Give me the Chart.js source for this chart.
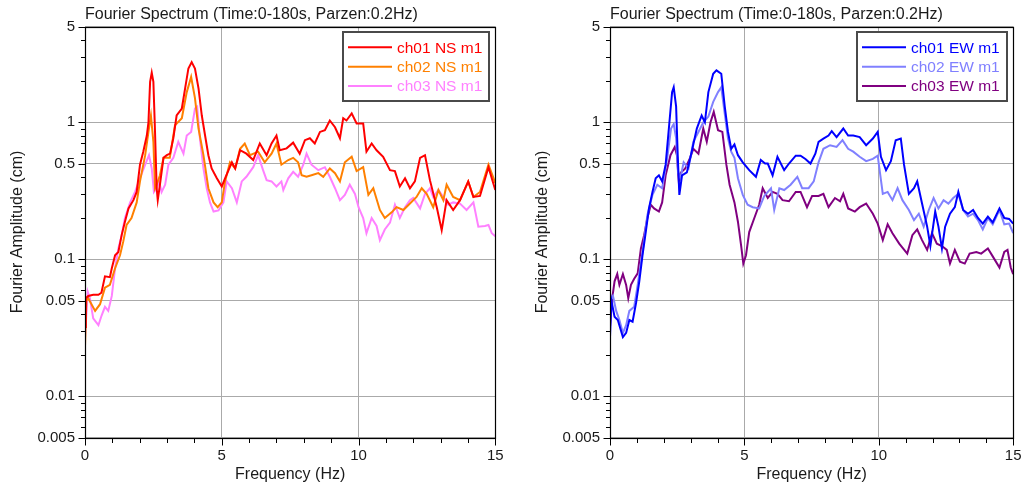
<!DOCTYPE html>
<html><head><meta charset="utf-8">
<script src="https://cdn.jsdelivr.net/npm/chart.js@4.4.0/dist/chart.umd.min.js"></script>
<style>
html,body{margin:0;padding:0;background:#fff;}
#wrap{position:relative;width:1031px;height:486px;overflow:hidden;background:#fff}
.c{position:absolute;top:0;height:486px}
canvas{display:block}
</style></head><body>
<div id="wrap">
<div class="c" style="left:0;width:524px"><canvas id="cNS" width="524" height="486"></canvas></div>
<div class="c" style="left:525px;width:506px"><canvas id="cEW" width="506" height="486"></canvas></div>
</div>
<script>
// ---------- data (frequency in Hz, amplitude in cm) ----------
const titleText = 'Fourier Spectrum (Time:0-180s, Parzen:0.2Hz)';
const xTitle = 'Frequency (Hz)';
const yTitle = 'Fourier Amplitude (cm)';

const xMajor = [0, 5, 10, 15];
const xLabels = ['0', '5', '10', '15'];
const xMinor = [1, 2, 3, 4, 6, 7, 8, 9, 11, 12, 13, 14];
const yMajor = [0.005, 0.01, 0.05, 0.1, 0.5, 1, 5];
const yLabels = ['0.005', '0.01', '0.05', '0.1', '0.5', '1', '5'];
const yMinor = [0.006, 0.007, 0.008, 0.009, 0.02, 0.03, 0.04, 0.06, 0.07, 0.08, 0.09,
                0.2, 0.3, 0.4, 0.6, 0.7, 0.8, 0.9, 2, 3, 4];

const ns1F = [0,0.03,0.12,0.3,0.49,0.6,0.73,0.91,0.98,1.1,1.22,1.34,1.46,1.59,1.77,1.89,2.01,2.13,2.26,2.32,2.38,2.44,2.5,2.56,2.62,2.66,2.74,2.87,2.99,3.11,3.23,3.35,3.54,3.66,3.78,3.9,4.02,4.15,4.27,4.39,4.51,4.63,4.82,5.0,5.12,5.37,5.49,5.67,5.9,6.15,6.39,6.64,6.82,7.0,7.12,7.37,7.61,7.85,8.04,8.22,8.4,8.59,8.77,8.95,9.14,9.32,9.44,9.56,9.75,9.93,10.17,10.29,10.48,10.66,10.9,11.15,11.33,11.51,11.7,11.88,12.06,12.25,12.43,12.61,12.86,13.04,13.22,13.46,13.71,14.01,14.2,14.44,14.75,15];
const ns1A = [0.032,0.052,0.054,0.055,0.055,0.057,0.075,0.074,0.086,0.107,0.113,0.15,0.188,0.235,0.27,0.31,0.49,0.61,0.80,1.0,1.97,2.3,1.97,0.85,0.33,0.27,0.35,0.55,0.575,0.59,0.765,1.12,1.26,1.77,2.47,2.75,2.47,1.77,1.12,0.80,0.575,0.46,0.39,0.34,0.39,0.51,0.46,0.625,0.59,0.53,0.70,0.575,0.70,0.80,0.625,0.645,0.71,0.59,0.74,0.765,0.70,0.85,0.875,1.03,0.92,0.765,1.07,1.03,1.16,0.98,0.98,0.61,0.70,0.625,0.56,0.447,0.44,0.34,0.39,0.33,0.37,0.55,0.575,0.378,0.24,0.163,0.27,0.229,0.27,0.37,0.285,0.29,0.47,0.32];

const ns2F = [0,0.05,0.12,0.37,0.55,0.73,0.91,1.1,1.28,1.4,1.52,1.7,1.89,2.01,2.2,2.32,2.41,2.5,2.56,2.62,2.74,2.87,3.1,3.29,3.54,3.72,3.88,4.02,4.15,4.33,4.51,4.7,4.85,5.0,5.12,5.3,5.49,5.67,5.84,6.03,6.33,6.57,6.82,7.0,7.18,7.43,7.61,7.79,7.92,8.1,8.28,8.53,8.71,8.95,9.14,9.32,9.5,9.75,9.93,10.17,10.36,10.54,10.78,10.96,11.21,11.39,11.64,11.88,12.12,12.31,12.49,12.73,12.92,13.1,13.22,13.46,13.71,14.01,14.2,14.44,14.75,15];
const ns2A = [0.023,0.05,0.052,0.042,0.047,0.062,0.065,0.086,0.107,0.135,0.178,0.2,0.26,0.37,0.575,0.85,1.12,0.72,0.33,0.35,0.41,0.55,0.55,0.95,1.07,1.66,2.14,1.5,0.9,0.575,0.33,0.26,0.24,0.26,0.37,0.51,0.46,0.64,0.70,0.575,0.61,0.51,0.59,0.70,0.49,0.53,0.55,0.51,0.41,0.40,0.41,0.425,0.40,0.46,0.425,0.37,0.51,0.56,0.44,0.47,0.295,0.33,0.229,0.2,0.22,0.24,0.229,0.255,0.285,0.33,0.30,0.24,0.32,0.27,0.35,0.285,0.27,0.37,0.285,0.31,0.49,0.36];

const ns3F = [0,0.1,0.18,0.3,0.49,0.61,0.73,0.85,0.98,1.1,1.22,1.34,1.46,1.65,1.83,2.01,2.2,2.34,2.44,2.52,2.62,2.71,2.8,2.93,3.05,3.23,3.41,3.6,3.72,3.88,4.02,4.1,4.2,4.33,4.45,4.57,4.7,4.88,5.06,5.18,5.37,5.55,5.73,5.9,6.15,6.33,6.51,6.64,6.82,7.0,7.18,7.25,7.43,7.61,7.79,7.98,8.1,8.28,8.53,8.77,8.95,9.14,9.32,9.5,9.68,9.87,10.0,10.17,10.29,10.48,10.66,10.78,10.96,11.15,11.33,11.51,11.7,11.88,12.0,12.25,12.43,12.61,12.73,12.92,13.1,13.28,13.46,13.71,13.95,14.2,14.38,14.62,14.75,14.87,15];
const ns3A = [0.027,0.058,0.052,0.037,0.033,0.039,0.045,0.042,0.054,0.086,0.12,0.15,0.2,0.26,0.31,0.39,0.49,0.575,0.46,0.31,0.33,0.37,0.31,0.35,0.49,0.55,0.72,0.59,0.80,0.85,1.26,1.3,0.765,0.46,0.33,0.26,0.223,0.227,0.26,0.37,0.33,0.26,0.37,0.40,0.47,0.575,0.447,0.378,0.37,0.34,0.37,0.32,0.39,0.435,0.40,0.49,0.59,0.49,0.447,0.47,0.40,0.33,0.27,0.295,0.35,0.30,0.24,0.2,0.155,0.2,0.175,0.138,0.165,0.185,0.25,0.2,0.24,0.27,0.28,0.235,0.30,0.33,0.285,0.32,0.285,0.25,0.26,0.255,0.229,0.26,0.173,0.175,0.178,0.155,0.147];

const ew1F = [0,0.05,0.17,0.29,0.48,0.6,0.72,0.84,0.97,1.09,1.21,1.33,1.45,1.58,1.7,1.82,1.94,2.07,2.19,2.31,2.37,2.46,2.52,2.58,2.68,2.86,3.04,3.23,3.41,3.53,3.66,3.84,3.96,4.14,4.27,4.39,4.51,4.63,4.76,4.94,5.18,5.43,5.61,5.77,5.87,6.05,6.23,6.48,6.66,6.91,7.09,7.27,7.46,7.64,7.76,7.94,8.13,8.25,8.43,8.68,8.86,9.05,9.29,9.53,9.78,9.96,10.08,10.27,10.45,10.63,10.82,10.94,11.12,11.31,11.43,11.61,11.8,11.92,12.1,12.22,12.35,12.47,12.65,12.83,12.96,13.14,13.32,13.51,13.69,13.87,14.06,14.24,14.49,14.67,14.85,15];
const ew1A = [0.027,0.05,0.038,0.036,0.027,0.029,0.036,0.035,0.048,0.069,0.107,0.158,0.235,0.31,0.39,0.41,0.37,0.49,0.9,1.66,1.8,1.3,0.575,0.295,0.41,0.43,0.61,0.9,1.12,1.0,1.66,2.26,2.39,2.26,1.3,0.85,0.64,0.69,0.575,0.51,0.447,0.40,0.53,0.5,0.5,0.41,0.56,0.447,0.5,0.57,0.57,0.54,0.5,0.59,0.72,0.76,0.80,0.86,0.78,0.9,0.80,0.80,0.78,0.68,0.76,0.85,0.56,0.447,0.52,0.74,0.76,0.49,0.30,0.33,0.37,0.255,0.173,0.125,0.223,0.173,0.12,0.173,0.215,0.24,0.31,0.229,0.215,0.229,0.2,0.182,0.205,0.186,0.235,0.2,0.197,0.182];

const ew2F = [0,0.11,0.23,0.35,0.48,0.6,0.72,0.9,1.03,1.21,1.39,1.58,1.76,1.94,2.13,2.27,2.37,2.46,2.53,2.62,2.74,2.92,3.1,3.29,3.47,3.66,3.84,4.02,4.14,4.27,4.39,4.51,4.63,4.76,4.94,5.12,5.31,5.55,5.74,5.99,6.11,6.3,6.48,6.72,6.97,7.15,7.39,7.58,7.76,7.94,8.19,8.43,8.65,8.86,9.05,9.29,9.53,9.78,9.96,10.15,10.33,10.51,10.7,10.88,11.12,11.31,11.49,11.67,11.86,12.04,12.22,12.41,12.59,12.77,12.96,13.14,13.32,13.51,13.69,13.87,14.06,14.24,14.49,14.67,14.85,15];
const ew2A = [0.05,0.054,0.042,0.036,0.029,0.033,0.042,0.045,0.065,0.113,0.21,0.295,0.35,0.33,0.55,0.9,0.97,0.765,0.43,0.39,0.51,0.46,0.72,0.85,1.0,1.1,1.41,1.66,1.8,1.15,0.765,0.61,0.55,0.39,0.295,0.25,0.24,0.235,0.29,0.33,0.229,0.33,0.32,0.35,0.40,0.33,0.33,0.37,0.51,0.64,0.68,0.66,0.74,0.64,0.61,0.56,0.52,0.54,0.57,0.30,0.31,0.27,0.33,0.27,0.229,0.193,0.215,0.173,0.229,0.28,0.235,0.27,0.255,0.28,0.30,0.229,0.205,0.215,0.193,0.165,0.2,0.18,0.229,0.18,0.182,0.155];

const ew3F = [0,0.07,0.17,0.27,0.35,0.48,0.6,0.68,0.78,0.9,1.03,1.15,1.27,1.39,1.52,1.64,1.82,1.94,2.07,2.25,2.41,2.49,2.56,2.64,2.8,2.98,3.1,3.29,3.47,3.6,3.74,3.86,4.02,4.18,4.33,4.45,4.63,4.76,4.88,4.96,5.06,5.18,5.37,5.55,5.68,5.87,6.05,6.23,6.42,6.66,6.91,7.09,7.33,7.52,7.76,7.94,8.13,8.37,8.56,8.68,8.86,9.11,9.29,9.53,9.78,9.96,10.15,10.33,10.51,10.76,11.06,11.25,11.43,11.61,11.8,11.98,12.16,12.35,12.53,12.65,12.83,13.02,13.2,13.38,13.63,13.81,14.06,14.24,14.49,14.67,14.79,14.91,15];
const ew3A = [0.032,0.05,0.069,0.078,0.065,0.078,0.065,0.052,0.065,0.072,0.079,0.12,0.15,0.2,0.25,0.235,0.223,0.26,0.41,0.575,0.66,0.575,0.37,0.43,0.46,0.55,0.64,0.59,0.9,0.72,1.0,1.19,0.875,0.85,0.49,0.35,0.26,0.188,0.125,0.093,0.107,0.158,0.2,0.25,0.33,0.28,0.31,0.30,0.27,0.265,0.31,0.31,0.24,0.29,0.29,0.30,0.24,0.28,0.265,0.30,0.235,0.223,0.24,0.255,0.215,0.182,0.138,0.18,0.155,0.13,0.11,0.15,0.165,0.138,0.117,0.155,0.13,0.125,0.117,0.093,0.117,0.096,0.093,0.11,0.113,0.11,0.12,0.105,0.087,0.113,0.117,0.087,0.078];

const nsLabels = ['ch01 NS m1', 'ch02 NS m1', 'ch03 NS m1'];
const ewLabels = ['ch01 EW m1', 'ch02 EW m1', 'ch03 EW m1'];
const nsColors = ['#ff0000', '#ff8000', '#ff80ff'];
const ewColors = ['#0000ff', '#8080ff', '#800080'];

// ---------- rendering ----------
const FONT = "'Liberation Sans', Arial, Helvetica, sans-serif";
const TEXT = '#1a1a1a';
const GRID = '#aaaaaa';
const NONE = 'rgba(0,0,0,0)';
const isIn = (arr, v) => arr.some(m => Math.abs(m - v) < 1e-9);

const framePlugin = {
  id: 'frame',
  afterDraw(chart) {
    const {ctx, chartArea: a, scales: {x, y}} = chart;
    ctx.save();
    ctx.strokeStyle = '#000';
    ctx.lineWidth = 1;
    ctx.beginPath();
    const L = Math.round(a.left) + 0.5, B = Math.round(a.bottom) + 0.5;
    const tick = (arr, len, isX) => arr.forEach(v => {
      if (isX) {
        const p = Math.round(x.getPixelForValue(v)) + 0.5;
        ctx.moveTo(p, B); ctx.lineTo(p, B + len);
      } else {
        const p = Math.round(y.getPixelForValue(v)) + 0.5;
        ctx.moveTo(L - len, p); ctx.lineTo(L, p);
      }
    });
    tick(xMajor, 7, true); tick(xMinor, 4.5, true);
    tick(yMajor, 7, false); tick(yMinor, 4.5, false);
    ctx.stroke();
    ctx.lineWidth = 1.2;
    const T = Math.round(a.top) + 0.5, R = Math.round(a.right) + 0.5;
    ctx.strokeRect(L, T, R - L, B - T);
    ctx.restore();
  }
};

const legendPlugin = {
  id: 'boxLegend',
  afterDraw(chart) {
    const {ctx, chartArea: a} = chart;
    const ds = chart.data.datasets;
    ctx.save();
    ctx.font = '15.5px ' + FONT;
    const tw = Math.max(...ds.map(d => ctx.measureText(d.label).width));
    const w = Math.round(5 + 44 + 5 + tw + 7), h = 69;
    const right = Math.round(a.right - 6), left = right - w, top = Math.round(a.top + 5.5);
    ctx.fillStyle = '#fff';
    ctx.fillRect(left, top, w, h);
    ctx.strokeStyle = '#4a4a4a';
    ctx.lineWidth = 2;
    ctx.strokeRect(left, top, w, h);
    ds.forEach((d, i) => {
      const yy = top + 15.3 + i * 19.35;
      ctx.strokeStyle = d.borderColor;
      ctx.lineWidth = 2;
      ctx.beginPath(); ctx.moveTo(left + 5, yy); ctx.lineTo(left + 49, yy); ctx.stroke();
      ctx.fillStyle = d.borderColor;
      ctx.textBaseline = 'middle';
      ctx.textAlign = 'left';
      ctx.fillText(d.label, left + 54, yy + 1);
    });
    ctx.restore();
  }
};

function makeChart(id, labels, colors, fs, as, padRight) {
  return new Chart(document.getElementById(id), {
    type: 'line',
    data: {
      datasets: labels.map((lab, k) => ({
        label: lab,
        data: fs[k].map((f, i) => ({x: f, y: as[k][i]})),
        borderColor: colors[k], backgroundColor: colors[k],
        borderWidth: 2, pointRadius: 0, tension: 0, fill: false
      }))
    },
    options: {
      responsive: false, animation: false,
      layout: {padding: {left: 0, right: padRight, top: 0, bottom: 0}},
      plugins: {
        legend: {display: false},
        tooltip: {enabled: false},
        title: {display: true, text: titleText, align: 'start', fullSize: false, color: TEXT,
                font: {family: FONT, size: 16, weight: 'normal'}, padding: {top: 5, bottom: 2.3}}
      },
      scales: {
        x: {
          type: 'linear', min: 0, max: 15,
          afterBuildTicks: sc => { sc.ticks = xMajor.concat(xMinor).sort((p, q) => p - q).map(v => ({value: v})); },
          ticks: {autoSkip: false, maxRotation: 0, padding: 9.5, color: TEXT, font: {family: FONT, size: 15},
                  callback: v => { const i = xMajor.indexOf(v); return i >= 0 ? xLabels[i] : ''; }},
          grid: {drawTicks: false, lineWidth: 1, color: c => (c.tick && isIn(xMajor, c.tick.value)) ? GRID : NONE},
          border: {display: false},
          title: {display: true, text: xTitle, color: TEXT, font: {family: FONT, size: 16}, padding: {top: 0, bottom: 1.4}},
          afterFit: sc => { sc.height = 48.5; }
        },
        y: {
          type: 'logarithmic', min: 0.005, max: 5,
          afterBuildTicks: sc => { sc.ticks = yMajor.concat(yMinor).sort((p, q) => p - q).map(v => ({value: v})); },
          ticks: {autoSkip: false, padding: 10, color: TEXT, font: {family: FONT, size: 15},
                  callback: v => { const i = yMajor.findIndex(m => Math.abs(m - v) < 1e-9); return i >= 0 ? yLabels[i] : ''; }},
          grid: {drawTicks: false, lineWidth: 1, color: c => (c.tick && isIn(yMajor, c.tick.value)) ? GRID : NONE},
          border: {display: false},
          title: {display: true, text: yTitle, color: TEXT, font: {family: FONT, size: 16}, padding: {top: 8.4, bottom: 0}},
          afterFit: sc => { sc.width = 85; }
        }
      }
    },
    plugins: [framePlugin, legendPlugin]
  });
}

makeChart('cNS', nsLabels, nsColors, [ns1F, ns2F, ns3F], [ns1A, ns2A, ns3A], 28.7);
makeChart('cEW', ewLabels, ewColors, [ew1F, ew2F, ew3F], [ew1A, ew2A, ew3A], 12);
</script>
</body></html>
